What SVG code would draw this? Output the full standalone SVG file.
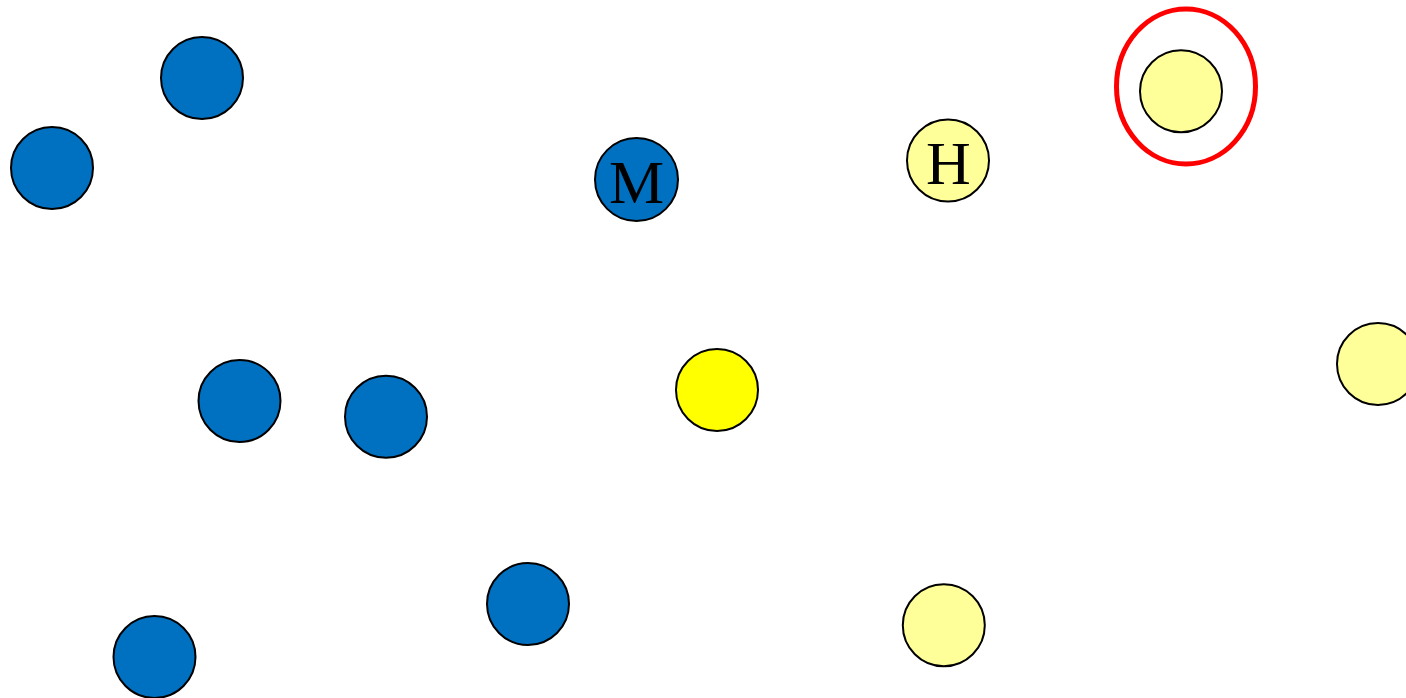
<svg xmlns="http://www.w3.org/2000/svg" width="1406" height="698" viewBox="0 0 1406 698">
<style>
.b{fill:#0070C0;stroke:#000;stroke-width:2}
.ly{fill:#FFFF99;stroke:#000;stroke-width:2}
.y{fill:#FFFF00;stroke:#000;stroke-width:2}
.t{font-family:"Liberation Serif",serif;font-size:62px;fill:#000;text-anchor:middle}
</style>
<rect width="1406" height="698" fill="#fff"/>
<g id="connectors"></g>
<g id="n1"><circle class="b" cx="202" cy="78" r="41"/></g>
<g id="n2"><circle class="b" cx="52" cy="168" r="41"/></g>
<g id="nM"><circle class="b" cx="636.5" cy="179.5" r="41.5"/><text class="t" x="636.5" y="202.5">M</text></g>
<g id="nH"><circle class="ly" cx="948" cy="160.5" r="41"/><text class="t" x="948.5" y="183.5">H</text></g>
<g id="nR"><ellipse cx="1186" cy="86.5" rx="69.5" ry="77.5" fill="none" stroke="#FF0000" stroke-width="5"/><circle class="ly" cx="1181" cy="91.3" r="41"/></g>
<g id="n6"><circle class="ly" cx="1378" cy="364" r="41"/></g>
<g id="n7"><circle class="y" cx="717" cy="390" r="41"/></g>
<g id="n8"><circle class="b" cx="239.5" cy="401" r="41"/></g>
<g id="n9"><circle class="b" cx="386" cy="416.7" r="41"/></g>
<g id="n10"><circle class="b" cx="528" cy="604" r="41"/></g>
<g id="n11"><circle class="b" cx="154.5" cy="657" r="41"/></g>
<g id="n12"><circle class="ly" cx="943.8" cy="625.3" r="41"/></g>
</svg>
